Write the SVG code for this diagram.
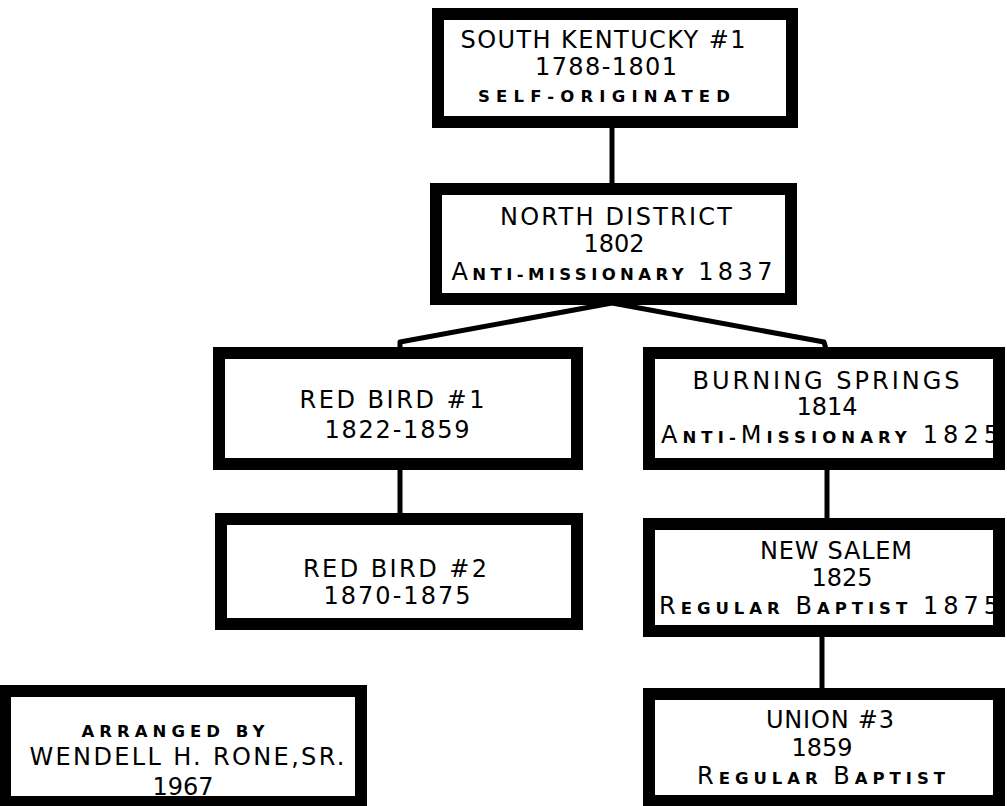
<svg xmlns="http://www.w3.org/2000/svg" width="1007" height="806" viewBox="0 0 1007 806">
<style>
.box{fill:#fff;stroke:#000;stroke-width:12}
.big{font-family:"DejaVu Sans",sans-serif;font-size:24px;fill:#000;text-anchor:middle}
.sm{font-size:16.5px;font-weight:bold}
.con{stroke:#000;stroke-width:5;fill:none;stroke-linejoin:round}
</style>
<rect width="1007" height="806" fill="#fff"/>
<g id="connectors">
<line class="con" x1="612" y1="128" x2="612" y2="185"/>
<polyline class="con" points="612,303 400,342 400,349"/>
<polyline class="con" points="612,303 824,342 826,349"/>
<line class="con" x1="400" y1="468" x2="400" y2="515"/>
<line class="con" x1="827" y1="468" x2="827" y2="520"/>
<line class="con" x1="822" y1="635" x2="822" y2="690"/>
</g>
<g id="south-kentucky">
<rect class="box" x="438" y="14" width="354" height="108"/>
<text class="big" x="603" y="48" textLength="285" lengthAdjust="spacing">SOUTH KENTUCKY #1</text>
<text class="big" x="606" y="75" textLength="142" lengthAdjust="spacing">1788-1801</text>
<text class="big sm" x="604" y="102" textLength="252" lengthAdjust="spacing">SELF-ORIGINATED</text>
</g>
<g id="north-district">
<rect class="box" x="436" y="189" width="355" height="110"/>
<text class="big" x="616" y="225" textLength="232" lengthAdjust="spacing">NORTH DISTRICT</text>
<text class="big" x="614" y="252">1802</text>
<text class="big" x="612" y="280" textLength="321" lengthAdjust="spacing">A<tspan class="sm">NTI-MISSIONARY </tspan>1837</text>
</g>
<g id="red-bird-1">
<rect class="box" x="219" y="353" width="358" height="111"/>
<text class="big" x="392" y="408" textLength="185" lengthAdjust="spacing">RED BIRD #1</text>
<text class="big" x="397" y="438" textLength="145" lengthAdjust="spacing">1822-1859</text>
</g>
<g id="burning-springs">
<rect class="box" x="649" y="353" width="350" height="111"/>
<text class="big" x="826" y="389" textLength="267" lengthAdjust="spacing">BURNING  SPRINGS</text>
<text class="big" x="827" y="415">1814</text>
<text class="big" x="830" y="443" textLength="338" lengthAdjust="spacing">A<tspan class="sm">NTI-</tspan>M<tspan class="sm">ISSIONARY </tspan>1825</text>
</g>
<g id="red-bird-2">
<rect class="box" x="221" y="519" width="356" height="105"/>
<text class="big" x="395" y="577" textLength="184" lengthAdjust="spacing">RED BIRD #2</text>
<text class="big" x="397" y="604" textLength="147" lengthAdjust="spacing">1870-1875</text>
</g>
<g id="new-salem">
<rect class="box" x="649" y="524" width="350" height="107"/>
<text class="big" x="836" y="559" textLength="152" lengthAdjust="spacing">NEW SALEM</text>
<text class="big" x="842" y="586">1825</text>
<text class="big" x="829" y="614" textLength="340" lengthAdjust="spacing">R<tspan class="sm">EGULAR </tspan>B<tspan class="sm">APTIST </tspan>1875</text>
</g>
<g id="union-3">
<rect class="box" x="649" y="694" width="350" height="107"/>
<text class="big" x="830" y="728" textLength="128" lengthAdjust="spacing">UNION #3</text>
<text class="big" x="822" y="756">1859</text>
<text class="big" x="821" y="784" textLength="248" lengthAdjust="spacing">R<tspan class="sm">EGULAR </tspan>B<tspan class="sm">APTIST</tspan></text>
</g>
<g id="arranged-by">
<rect class="box" x="5" y="691" width="356" height="111"/>
<text class="big sm" x="173" y="737" textLength="183" lengthAdjust="spacing">ARRANGED BY</text>
<text class="big" x="187" y="765" textLength="315" lengthAdjust="spacing">WENDELL H. RONE,SR.</text>
<text class="big" x="183" y="795">1967</text>
</g>
</svg>
